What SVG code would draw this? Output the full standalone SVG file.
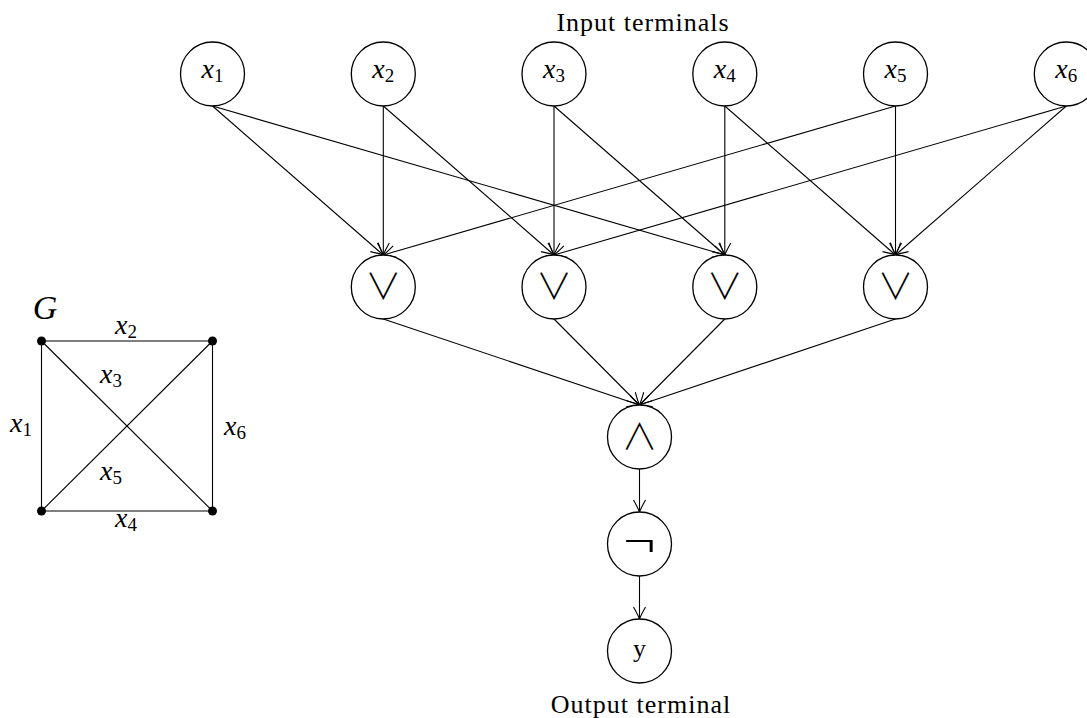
<svg xmlns="http://www.w3.org/2000/svg" width="1087" height="718" viewBox="0 0 1087 718">
  <style>
    .node circle { fill: #fff; stroke: #000; stroke-width: 1.3; }
    .lbl { font-family: "Liberation Serif", "DejaVu Serif", serif; font-size: 26px; fill: #000; }
    .title { letter-spacing: 1px; }
    .var { font-style: italic; font-size: 28px; }
    .sub { font-style: normal; font-size: 19px; }
    .op { font-family: "Noto Sans CJK JP", "DejaVu Sans", sans-serif; font-size: 36px; font-weight: 300; fill: #000; }
    .edge { stroke: #000; stroke-width: 1.1; fill: none; marker-end: url(#arr); }
    .gedge { stroke: #000; stroke-width: 1.1; fill: none; }
  </style>
  <defs>
    <marker id="arr" markerUnits="userSpaceOnUse" markerWidth="16" markerHeight="16" viewBox="-13 -8 16 16" refX="0" refY="0" orient="auto" overflow="visible">
      <path d="M -12 -6 Q -4 -1.5 0 0 Q -4 1.5 -12 6" fill="none" stroke="#000" stroke-width="1.1"/>
    </marker>
  </defs>
  <rect width="1087" height="718" fill="#fff"/>

  <!-- connectors -->
  <g id="connectors">
    <!-- inputs to OR gates -->
    <line class="edge" x1="212.5" y1="106" x2="383.3" y2="255"/>
    <line class="edge" x1="212.5" y1="106" x2="724.8" y2="255"/>
    <line class="edge" x1="383.3" y1="106" x2="383.3" y2="255"/>
    <line class="edge" x1="383.3" y1="106" x2="554" y2="255"/>
    <line class="edge" x1="554" y1="106" x2="554" y2="255"/>
    <line class="edge" x1="554" y1="106" x2="724.8" y2="255"/>
    <line class="edge" x1="724.8" y1="106" x2="724.8" y2="255"/>
    <line class="edge" x1="724.8" y1="106" x2="895.5" y2="255"/>
    <line class="edge" x1="895.5" y1="106" x2="383.3" y2="255"/>
    <line class="edge" x1="895.5" y1="106" x2="895.5" y2="255"/>
    <line class="edge" x1="1066.3" y1="106" x2="554" y2="255"/>
    <line class="edge" x1="1066.3" y1="106" x2="895.5" y2="255"/>
    <!-- OR gates to AND -->
    <line class="edge" x1="383.3" y1="319" x2="639.5" y2="405"/>
    <line class="edge" x1="554" y1="319" x2="639.5" y2="405"/>
    <line class="edge" x1="724.8" y1="319" x2="639.5" y2="405"/>
    <line class="edge" x1="895.5" y1="319" x2="639.5" y2="405"/>
    <!-- AND to NOT to output -->
    <line class="edge" x1="639.5" y1="469" x2="639.5" y2="512"/>
    <line class="edge" x1="639.5" y1="576" x2="639.5" y2="619"/>
  </g>

  <!-- input terminals -->
  <text class="lbl title" x="643" y="31" text-anchor="middle">Input terminals</text>
  <g id="x1" class="node"><circle cx="212.5" cy="74" r="32"/><text class="lbl var" x="212.5" y="78" text-anchor="middle">x<tspan class="sub" dy="4">1</tspan></text></g>
  <g id="x2" class="node"><circle cx="383.3" cy="74" r="32"/><text class="lbl var" x="383.3" y="78" text-anchor="middle">x<tspan class="sub" dy="4">2</tspan></text></g>
  <g id="x3" class="node"><circle cx="554" cy="74" r="32"/><text class="lbl var" x="554" y="78" text-anchor="middle">x<tspan class="sub" dy="4">3</tspan></text></g>
  <g id="x4" class="node"><circle cx="724.8" cy="74" r="32"/><text class="lbl var" x="724.8" y="78" text-anchor="middle">x<tspan class="sub" dy="4">4</tspan></text></g>
  <g id="x5" class="node"><circle cx="895.5" cy="74" r="32"/><text class="lbl var" x="895.5" y="78" text-anchor="middle">x<tspan class="sub" dy="4">5</tspan></text></g>
  <g id="x6" class="node"><circle cx="1066.3" cy="74" r="32"/><text class="lbl var" x="1066.3" y="78" text-anchor="middle">x<tspan class="sub" dy="4">6</tspan></text></g>

  <!-- OR gates -->
  <g id="or1" class="node"><circle cx="383.3" cy="287" r="32"/><text class="op" x="383.3" y="300" text-anchor="middle">∨</text></g>
  <g id="or2" class="node"><circle cx="554" cy="287" r="32"/><text class="op" x="554" y="300" text-anchor="middle">∨</text></g>
  <g id="or3" class="node"><circle cx="724.8" cy="287" r="32"/><text class="op" x="724.8" y="300" text-anchor="middle">∨</text></g>
  <g id="or4" class="node"><circle cx="895.5" cy="287" r="32"/><text class="op" x="895.5" y="300" text-anchor="middle">∨</text></g>

  <!-- AND, NOT, output -->
  <g id="and" class="node"><circle cx="639.5" cy="437" r="32"/><text class="op" x="639.5" y="450" text-anchor="middle">∧</text></g>
  <g id="not" class="node"><circle cx="639.5" cy="544" r="32"/><text class="op" transform="translate(639.5 557) scale(1.6 1.25)" x="0" y="0" text-anchor="middle">¬</text></g>
  <g id="y" class="node"><circle cx="639.5" cy="651" r="32"/><text class="lbl" x="639.5" y="657" text-anchor="middle">y</text></g>
  <text class="lbl title" x="641" y="713" text-anchor="middle">Output terminal</text>

  <!-- graph G -->
  <g id="graphG">
    <line class="gedge" x1="41.5" y1="341" x2="212.5" y2="341"/>
    <line class="gedge" x1="41.5" y1="341" x2="41.5" y2="511"/>
    <line class="gedge" x1="212.5" y1="341" x2="212.5" y2="511"/>
    <line class="gedge" x1="41.5" y1="511" x2="212.5" y2="511"/>
    <line class="gedge" x1="41.5" y1="341" x2="212.5" y2="511"/>
    <line class="gedge" x1="41.5" y1="511" x2="212.5" y2="341"/>
    <circle cx="41.5" cy="341" r="4.5" fill="#000"/>
    <circle cx="212.5" cy="341" r="4.5" fill="#000"/>
    <circle cx="41.5" cy="511" r="4.5" fill="#000"/>
    <circle cx="212.5" cy="511" r="4.5" fill="#000"/>
    <text class="lbl var" x="45" y="319" text-anchor="middle" style="font-size:34px">G</text>
    <text class="lbl var" x="126" y="334" text-anchor="middle">x<tspan class="sub" dy="4">2</tspan></text>
    <text class="lbl var" x="111" y="383" text-anchor="middle">x<tspan class="sub" dy="4">3</tspan></text>
    <text class="lbl var" x="21" y="432" text-anchor="middle">x<tspan class="sub" dy="4">1</tspan></text>
    <text class="lbl var" x="235" y="435" text-anchor="middle">x<tspan class="sub" dy="4">6</tspan></text>
    <text class="lbl var" x="111" y="480" text-anchor="middle">x<tspan class="sub" dy="4">5</tspan></text>
    <text class="lbl var" x="126" y="527" text-anchor="middle">x<tspan class="sub" dy="4">4</tspan></text>
  </g>
</svg>
